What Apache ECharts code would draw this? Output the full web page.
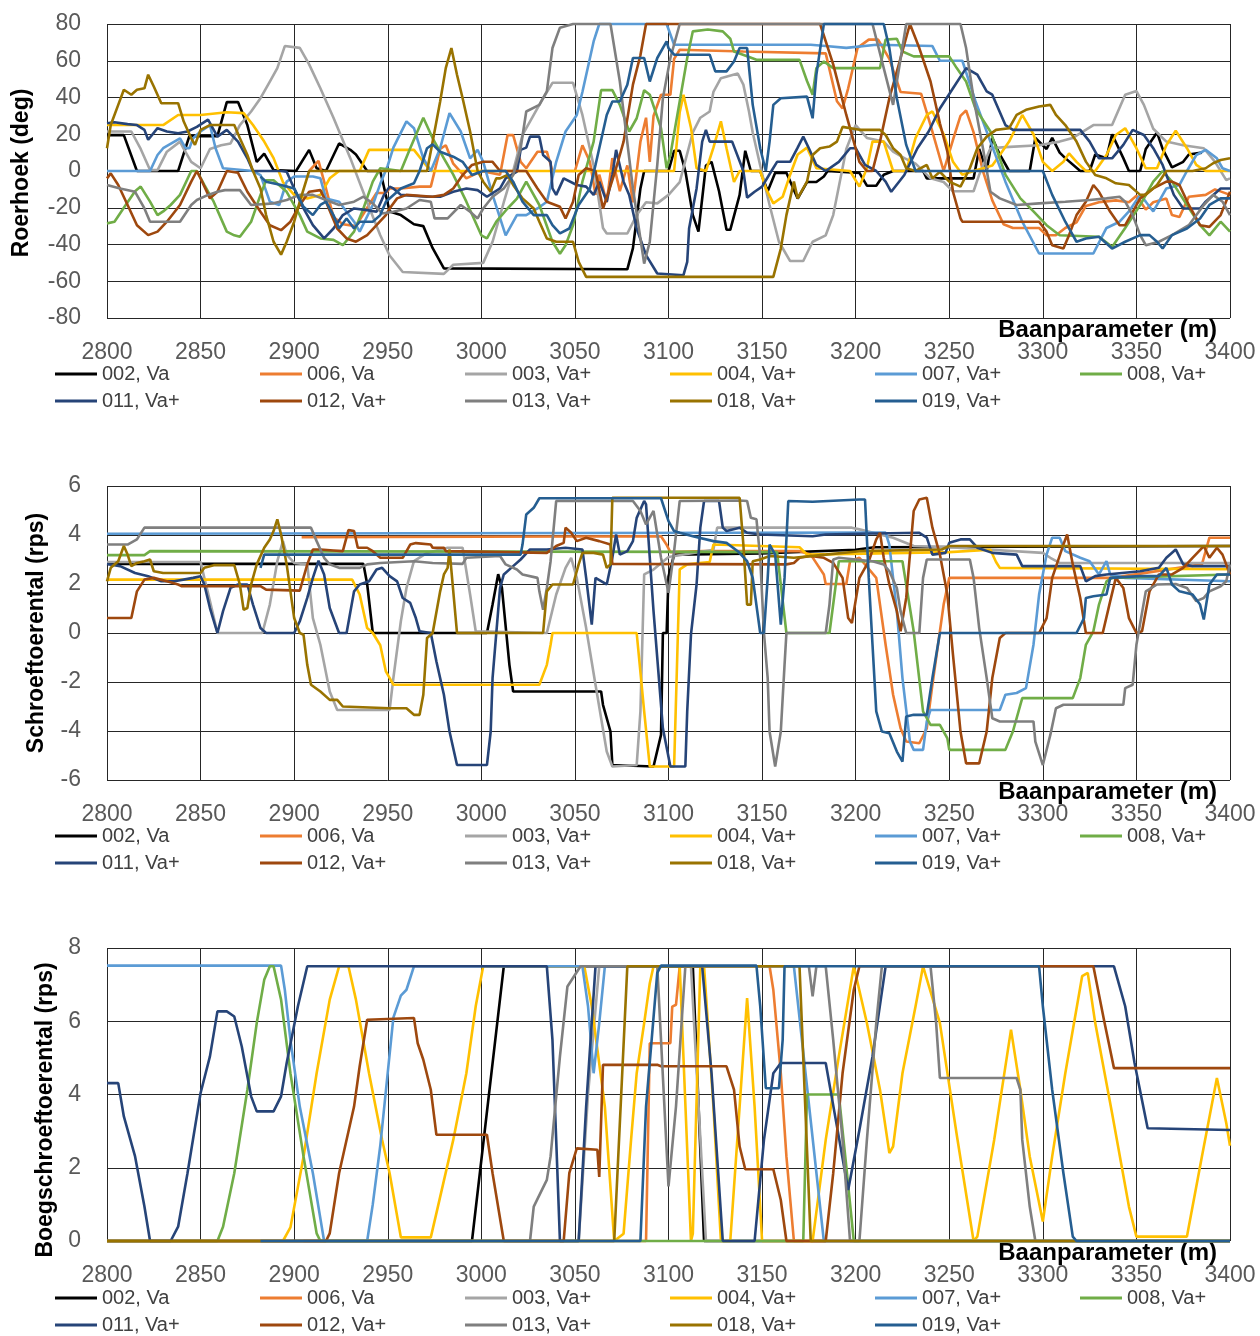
<!DOCTYPE html>
<html>
<head>
<meta charset="utf-8">
<script src="https://cdn.jsdelivr.net/npm/echarts@6/dist/echarts.min.js"></script>
<style>
  html, body { margin: 0; padding: 0; background: #ffffff; }
  #chart { width: 1260px; height: 1336px; }
</style>
</head>
<body>
<div id="chart"></div>
<script>
// Run labels, in drawing order
const runNames = ['002, Va', '006, Va', '003, Va+', '004, Va+', '007, Va+', '008, Va+',
                  '011, Va+', '012, Va+', '013, Va+', '018, Va+', '019, Va+'];

// ---------- Roerhoek (deg) : [baanparameter (m), roerhoek] ----------
const roer002 = [[2800,19.5],[2809,19.5],[2816,0],[2838,0],[2844,19],[2859,19],[2864,37.5],[2870,37.5],[2875,25],[2880,5],[2884,9.5],[2889,0.5],[2901,0],[2908,11.5],[2912,1.5],[2917,0],[2924,15],[2930,11.5],[2933,9],[2939,0],[2946,0],[2951,-22],[2957,-24],[2964,-29],[2969,-30],[2974,-42],[2980,-53],[3078,-53.5],[3081,-42],[3085,-9.5],[3087,0],[3100,0],[3103,11],[3106,11],[3109,0],[3113,-24],[3116,-33],[3120,3],[3123,5],[3127,-11],[3131,-32],[3133,-32],[3138,-13],[3141,11],[3144,0],[3149,0],[3153,-11],[3157,-1],[3163,-1],[3169,-15],[3174,-6],[3179,-6],[3183,-3],[3185,0],[3202,-1],[3206,-8],[3211,-8],[3215,-2],[3220,0],[3236,0],[3238,-4],[3263,-4],[3266,12],[3270,0],[3273,18],[3277,9],[3282,0],[3293,0],[3296,18],[3302,12],[3305,18],[3309,10],[3312,7],[3320,0],[3325,0],[3328,9],[3334,7],[3337,20],[3343,7],[3346,0],[3352,0],[3355,12],[3361,21],[3364,12],[3369,2],[3375,5],[3378,9],[3385,10]];
const roer006 = [[2908,0],[2913,5.5],[2917,-9.5],[2921,-25],[2926,-29],[2933,-30],[2939,-20],[2944,-12],[2949,-12],[2951,-9.5],[2957,-9.5],[2967,-8.5],[2973,-8.5],[2978,12],[2981,14],[2985,4],[2992,-4],[3000,0],[3010,-2],[3014,19.5],[3017,19.5],[3021,5],[3024,1.5],[3030,10.5],[3035,10.5],[3038,0],[3050,0],[3054,14],[3058,5],[3061,-13],[3063,-2],[3067,-17],[3070,7],[3074,-11],[3078,3],[3081,-17],[3085,16],[3088,29],[3090,5],[3092,30],[3096,41.5],[3101,41.5],[3103,61],[3106,66],[3140,65],[3184,64],[3190,38],[3193,34],[3196,45],[3201,67],[3207,71.5],[3212,71.5],[3218,61],[3224,43],[3235,42],[3240,25],[3247,0],[3252,17],[3256,30],[3259,33],[3263,21],[3268,0],[3273,-16],[3279,-29],[3284,-31],[3298,-31],[3302,-35],[3307,-35],[3312,-31],[3318,-28],[3323,-19],[3330,-17],[3339,-16],[3346,-17],[3350,-13.5],[3355,-21],[3359,-17],[3366,-15],[3369,-24],[3373,-25],[3378,-14],[3387,-13],[3392,-10],[3400,-13]];
const roer003 = [[2800,21.5],[2813,21.5],[2818,12],[2823,0.5],[2827,0.5],[2832,10.5],[2839,16],[2841,12],[2845,5],[2850,1.5],[2855,12],[2861,14],[2866,15],[2871,25],[2877,32.4],[2882,39.6],[2887,48.7],[2891,56],[2895,68],[2903,67],[2908,58],[2914,45],[2921,29],[2930,7],[2939,-17],[2946,-35],[2951,-46],[2958,-55],[2980,-56],[2985,-51],[3001,-50],[3006,-38.5],[3012,-17],[3017,0],[3022,19.6],[3028,30.5],[3033,39.6],[3038,48],[3049,48],[3054,30.5],[3060,3],[3065,-31],[3067,-34],[3078,-34],[3083,-24],[3088,-17],[3094,-17.6],[3100,-13],[3106,-6],[3113,21],[3117,29],[3122,32.4],[3124,43],[3128,50.5],[3137,53],[3140,47],[3143,32.4],[3145,21],[3149,3],[3154,-18.5],[3159,-38.5],[3165,-49],[3172,-49],[3177,-38.5],[3184,-35],[3188,-24],[3195,12],[3200,25],[3206,18],[3215,16],[3220,10.5],[3226,7],[3232,4],[3240,-4],[3247,-6],[3252,-11],[3263,-11],[3266,-2],[3272,12.4],[3280,13],[3298,14],[3309,16],[3316,18],[3327,25],[3337,25],[3344,41.5],[3350,43.5],[3354,36],[3359,23],[3366,16],[3375,14],[3386,12.4],[3392,5],[3398,-5],[3400,-4]];
const roer004 = [[2800,25],[2830,25],[2838,30.5],[2850,30.5],[2864,32],[2873,31.5],[2878,25],[2884,16],[2889,7],[2894,-6],[2900,-13],[2907,-15],[2914,-13],[2919,-4],[2924,0],[2935,0],[2940,11.5],[2964,11.5],[2969,5],[2973,0],[3103,0],[3106,32],[3108,41.5],[3112,23.6],[3115,1.5],[3120,0],[3124,12.7],[3128,27],[3131,12.4],[3135,-6],[3138,0],[3149,0],[3152,-9.5],[3156,-17.6],[3161,-14],[3165,-2],[3169,9],[3174,12.7],[3179,1.5],[3197,0],[3202,-8.5],[3206,1.5],[3209,16],[3215,16],[3220,0],[3227,0],[3232,18],[3238,30.5],[3241,32.4],[3247,20],[3252,5],[3257,-2],[3263,0],[3273,3],[3277,8.7],[3282,16],[3289,30.5],[3295,20],[3300,5],[3305,0],[3311,5],[3314,9.6],[3318,5],[3323,0],[3328,0],[3334,8.7],[3339,19.6],[3344,23.3],[3350,12.4],[3355,1.5],[3361,1.5],[3366,14],[3371,22],[3377,12.4],[3382,3.3],[3387,0],[3400,0]];
const roer007 = [[2800,0],[2823,0],[2827,8.7],[2830,12.4],[2836,16],[2839,17.8],[2842,12.4],[2844,12.4],[2846,17.8],[2850,21.5],[2855,25],[2858,12.4],[2862,1.5],[2878,0],[2882,-2.2],[2887,-16.7],[2892,-18.5],[2896,-5.8],[2900,-3],[2910,-3],[2914,-4],[2917,-15],[2924,-16.7],[2932,-27.6],[2935,-33],[2942,-18.5],[2946,-7],[2950,3],[2953,12.7],[2960,27],[2964,23.3],[2969,6.9],[2973,0],[2978,12.4],[2983,31.5],[2989,21.5],[2994,6.9],[2998,11.5],[3001,5],[3006,-13],[3013,-35],[3019,-24],[3024,-24],[3030,-20.4],[3035,-16.7],[3040,5],[3045,21.5],[3051,30.5],[3054,43],[3060,70.5],[3063,80],[3099,80],[3103,68.7],[3176,68.7],[3184,68],[3195,67],[3211,68.7],[3241,68],[3245,60],[3257,60],[3264,38],[3272,16],[3280,-5.8],[3289,-27.6],[3298,-44.9],[3327,-44.9],[3334,-31],[3341,-27.6],[3346,-22],[3352,-13],[3355,-16.7],[3359,-22],[3362,-16.7],[3366,-9.5],[3373,-7.6],[3377,0],[3382,8.7],[3387,11.5],[3393,6.9],[3396,1.5],[3400,0]];
const roer008 = [[2800,-28.5],[2804,-27.6],[2809,-20],[2815,-11],[2818,-8.5],[2823,-16.7],[2827,-24],[2830,-22],[2834,-18.5],[2839,-13],[2845,0],[2848,0],[2852,-7.6],[2857,-16.7],[2864,-33],[2868,-35],[2871,-35.8],[2877,-27.6],[2882,-13],[2885,-5],[2889,-5],[2896,-11.3],[2903,-24],[2907,-33],[2914,-36.7],[2921,-37.5],[2926,-40.4],[2932,-33],[2937,-20.4],[2942,-5.8],[2946,1.5],[2957,0],[2962,12.4],[2969,29],[2974,17.8],[2980,6.9],[2985,-2],[2992,-16.7],[3000,-35],[3003,-36.7],[3008,-27.6],[3014,-20.4],[3019,-15],[3024,-5.8],[3031,-18.5],[3038,-38.5],[3042,-45],[3045,-40.4],[3049,-29.5],[3054,-5.8],[3060,16],[3064,44],[3070,44],[3074,36],[3079,21.5],[3083,28.7],[3087,44],[3090,41.5],[3096,23.3],[3099,1.5],[3101,8.7],[3106,38],[3110,61.5],[3113,76],[3121,77],[3129,76],[3133,72],[3135,65],[3142,62.4],[3147,60.5],[3170,60.5],[3174,49],[3177,41.5],[3179,56],[3183,59.6],[3188,56],[3213,56],[3216,71.5],[3222,72],[3225,65],[3231,62.4],[3250,62.4],[3254,56],[3259,48.7],[3264,34],[3272,21.5],[3280,-2],[3288,-14.9],[3295,-22],[3302,-29.5],[3309,-35],[3330,-35.8],[3337,-41.3],[3344,-31],[3352,-18.5],[3359,-5.8],[3364,0],[3369,-5.8],[3377,-18.5],[3384,-29.5],[3389,-35],[3395,-27.6],[3400,-33]];
const roer011 = [[2800,26],[2804,26.5],[2811,25.5],[2816,25],[2820,22.4],[2822,17],[2827,23.3],[2832,21.5],[2838,20.5],[2843,21.5],[2848,24],[2854,28],[2859,18.7],[2864,22.4],[2870,16],[2875,6.9],[2878,0],[2893,0],[2896,-0.4],[2900,-9.5],[2905,-20.4],[2910,-29.5],[2916,-36.7],[2921,-31.3],[2926,-24],[2932,-20.4],[2939,-21.3],[2944,-22.2],[2948,-13],[2951,-8.5],[2953,-9.5],[2957,-13],[2971,-14],[2978,-14],[2985,-11.3],[2992,-9.5],[2998,-10.4],[3003,-14],[3010,-9.5],[3013,-4],[3019,-0.4],[3021,11.5],[3024,12.7],[3026,18.7],[3031,18.7],[3033,8.7],[3037,5],[3038,-9.5],[3040,-13],[3044,-4],[3051,-7.6],[3056,-8.5],[3060,-13],[3063,-5.8],[3067,-16.7],[3070,-2.2],[3072,11.5],[3076,-5.8],[3079,-13],[3083,-31.3],[3088,-45.8],[3094,-55.8],[3108,-56.7],[3110,-49.5],[3111,-31.3],[3115,-9.5],[3118,16],[3120,22.4],[3122,16],[3134,16],[3140,0],[3142,-14.5],[3146,-11.3],[3150,-8.5],[3155,0],[3158,5],[3165,5],[3169,12.7],[3172,18.7],[3175,12.4],[3179,3.3],[3184,0],[3191,5],[3197,12.4],[3200,12.4],[3205,3.3],[3211,0],[3216,-5.8],[3219,-11.3],[3226,-2.2],[3233,12.4],[3239,21.5],[3245,34],[3252,45],[3259,56],[3265,52.4],[3270,43.3],[3273,41.5],[3280,25],[3284,22.4],[3320,22.4],[3325,16],[3330,6.9],[3337,6.9],[3343,14.2],[3348,22.4],[3354,19.6],[3359,12.4],[3364,3.3],[3370,-13],[3375,-20.4],[3384,-20.4],[3387,-16.7],[3395,-9.5],[3400,-9.5]];
const roer012 = [[2800,-4],[2802,-1.3],[2806,-7.6],[2811,-18.5],[2816,-29.5],[2822,-34.9],[2827,-33],[2832,-27.6],[2839,-18.5],[2845,-5.8],[2848,0],[2850,-4],[2855,-14.9],[2859,-11.3],[2864,0],[2870,-1],[2875,-11.3],[2882,-22.2],[2887,-29.5],[2893,-32.2],[2898,-27.6],[2903,-18.5],[2908,-11.3],[2914,-10.4],[2917,-16.7],[2923,-31.3],[2928,-36.7],[2933,-38.5],[2939,-34.9],[2944,-29.5],[2949,-24],[2951,-20.4],[2955,-14.9],[2960,-13],[2974,-14],[2980,-13],[2985,-9.5],[2990,-2.2],[2995,3.3],[3001,5],[3006,5],[3010,0],[3024,0],[3030,-9.5],[3035,-16.7],[3042,-19.5],[3045,-25.8],[3049,-16.7],[3052,-2.2],[3056,1.5],[3061,0],[3065,-20.4],[3068,-11.3],[3072,1.5],[3076,16],[3081,47],[3085,63],[3088,80],[3181,80],[3188,58],[3195,30.5],[3202,5],[3206,0],[3209,0],[3213,16],[3218,39.6],[3224,61.5],[3229,80],[3234,66.9],[3240,48.7],[3245,26],[3249,10.5],[3252,-11.3],[3256,-25.8],[3257,-27.6],[3298,-27.6],[3302,-33],[3305,-40.4],[3311,-42.2],[3314,-34.9],[3318,-24],[3323,-16.7],[3327,-7.6],[3330,-11.3],[3336,-22.2],[3341,-29.5],[3344,-29.5],[3348,-22.2],[3352,-14.9],[3359,-9.5],[3366,-5.8],[3369,-5.8],[3373,-7.6],[3378,-18.5],[3384,-29.5],[3389,-30.4],[3395,-24],[3400,-11.3]];
const roer013 = [[2800,-7.6],[2807,-9.5],[2815,-11.3],[2820,-20.4],[2823,-27.6],[2839,-27.6],[2845,-18.5],[2848,-15.8],[2854,-13],[2859,-11.3],[2863,-10.4],[2871,-10.4],[2877,-18.5],[2889,-17.6],[2896,-15.8],[2903,-13],[2910,-13],[2917,-15.8],[2924,-18.5],[2932,-16.7],[2937,-14],[2942,-17.6],[2947,-23.1],[2953,-22.2],[2960,-20.4],[2967,-15.8],[2973,-16.7],[2975,-25.8],[2982,-25.8],[2989,-18.5],[2994,-22.2],[2998,-25.8],[3001,-20.4],[3006,-14],[3012,-9.5],[3017,-2.2],[3021,12.4],[3024,32.4],[3031,36],[3035,43.3],[3038,66.9],[3042,78],[3049,80],[3069,80],[3074,48.7],[3081,-9.5],[3087,-50.4],[3090,-38.5],[3094,3.3],[3097,39.6],[3101,61.5],[3106,80],[3209,80],[3220,36],[3227,80],[3256,80],[3259,66.9],[3263,39.6],[3268,12.4],[3272,-11.3],[3277,-14.9],[3286,-18.5],[3298,-17.6],[3312,-16.7],[3325,-15.8],[3334,-14.9],[3341,-14],[3344,-16.7],[3348,-24],[3352,-34.9],[3355,-40.4],[3362,-38.5],[3369,-34.9],[3378,-29.5],[3386,-18.5],[3391,-13],[3396,-16.7],[3400,-24]];
const roer018 = [[2800,12.4],[2802,25],[2806,36],[2809,44.2],[2813,41.5],[2816,44.2],[2820,45],[2822,52.4],[2823,52.4],[2825,46],[2829,36.9],[2838,36.9],[2841,26.9],[2845,17.8],[2847,14.2],[2850,22.4],[2855,25],[2868,25],[2871,17.8],[2875,8.7],[2878,0],[2882,-9.5],[2885,-24],[2889,-38.5],[2893,-45.5],[2896,-38.5],[2900,-27.6],[2903,-16.7],[2908,0],[2971,0],[2974,16],[2978,37.8],[2981,56],[2984,66.9],[2987,52.4],[2990,39.6],[2994,21.5],[2998,0],[3001,-5.8],[3005,-11.3],[3008,-4],[3010,-4],[3014,-2.2],[3017,-7.6],[3022,-14.9],[3028,-20.4],[3031,-27.6],[3035,-36.7],[3040,-38.5],[3049,-38.5],[3052,-49.5],[3056,-57.6],[3156,-57.6],[3160,-42.2],[3163,-24],[3167,-5.8],[3169,-14.9],[3170,-13],[3174,-5.8],[3177,8.7],[3181,12.4],[3186,13.3],[3190,16],[3193,24],[3202,22.4],[3213,22.4],[3216,19.6],[3220,12.4],[3224,8.7],[3227,1.5],[3232,0],[3238,3.3],[3241,-4],[3245,-0.4],[3250,-5.8],[3256,-8.5],[3261,1.5],[3265,12.4],[3270,18.7],[3275,22.4],[3282,23.3],[3286,30.5],[3291,33.3],[3298,35.1],[3304,36],[3307,30.5],[3312,25],[3318,16],[3323,5.1],[3328,-2.2],[3334,-4],[3339,-6.7],[3346,-7.6],[3352,-13],[3355,-13],[3361,-7.6],[3366,0],[3380,0],[3387,1.5],[3391,4.2],[3395,6],[3400,6.9]];
const roer019 = [[2882,-3],[2885,-5.8],[2893,-7.6],[2900,-9.5],[2905,-19.5],[2910,-24],[2914,-18.5],[2917,-16.7],[2921,-24],[2924,-31.3],[2928,-25.8],[2932,-31.3],[2935,-27.6],[2942,-27.6],[2946,-24],[2949,-16.7],[2957,-9.5],[2964,-6.7],[2967,0],[2971,12.4],[2974,14.5],[2978,10.5],[2985,7.8],[2990,5],[2995,-2.2],[3001,0],[3013,0],[3017,-5.8],[3022,-16.7],[3028,-24],[3035,-24],[3038,-29.5],[3042,-34],[3047,-31.3],[3052,-18.5],[3058,-9.5],[3061,3.3],[3067,30.5],[3070,37.8],[3074,37.8],[3078,46.9],[3081,61.5],[3087,61.5],[3090,48.7],[3094,61.5],[3099,70.5],[3100,66.9],[3103,63.3],[3122,63.3],[3125,54.2],[3131,54.2],[3135,59.6],[3138,66.9],[3142,66.9],[3145,36],[3149,12.4],[3152,0],[3154,16],[3156,36],[3160,39.6],[3174,40.5],[3177,28.7],[3179,52.4],[3183,80],[3215,80],[3218,66.9],[3222,39.6],[3227,14.2],[3232,0],[3300,0],[3305,-13],[3312,-27.6],[3318,-38.5],[3323,-36.7],[3330,-35.8],[3337,-42.2],[3344,-38.5],[3352,-34.9],[3357,-34.9],[3361,-38.5],[3364,-42.2],[3369,-34.9],[3377,-31.3],[3384,-25.8],[3389,-18.5],[3395,-14.9],[3400,-14.9]];

// ---------- Schroeftoerental (rps) ----------
const schroef002 = [[2800,2.82],[2937,2.82],[2939,2.0],[2942,0],[3003,0],[3006,1.16],[3009,2.4],[3011,1.84],[3015,-1.3],[3017,-2.39],[3064,-2.39],[3065,-2.93],[3069,-4.02],[3070,-5.39],[3092,-5.45],[3096,-4.16],[3097,0],[3099,0],[3100,2.3],[3103,3.2],[3150,3.25],[3200,3.4],[3210,3.5],[3400,3.55]];
const schroef006 = [[2904,3.91],[3096,3.95],[3099,3.6],[3101,3.3],[3119,3.34],[3170,3.34],[3176,3.2],[3183,2.39],[3184,2.0],[3195,2.0],[3197,2.93],[3202,3.07],[3211,2.25],[3216,-0.48],[3220,-2.52],[3224,-3.89],[3227,-4.43],[3234,-4.5],[3238,-3.89],[3241,-2.11],[3247,1.16],[3250,2.25],[3337,2.25],[3385,2.8],[3389,3.89],[3400,3.89]];
const schroef003 = [[2800,2.9],[2850,2.9],[2852,2.25],[2855,1.3],[2859,0],[2883,0],[2887,1.16],[2891,2.93],[2894,3.75],[2896,3.2],[2900,2.86],[2907,2.8],[2910,0.61],[2914,-0.48],[2919,-2.39],[2923,-3.14],[2951,-3.14],[2953,-1.84],[2957,0.48],[2960,1.84],[2964,2.93],[2971,3.27],[2982,3.48],[2990,3.48],[2994,1.57],[2997,0.07],[3035,0],[3040,1.57],[3045,2.66],[3048,3.07],[3051,2.25],[3056,0.2],[3061,-2.11],[3067,-4.84],[3070,-5.45],[3083,-5.39],[3085,-3.2],[3087,2.39],[3092,2.59],[3100,3.1],[3124,3.4],[3126,4.3],[3198,4.3],[3202,4.23],[3220,3.89],[3231,3.55],[3250,3.5],[3300,3.27],[3304,3.07],[3309,2.86],[3400,2.86]];
const schroef004 = [[2800,2.18],[2931,2.18],[2935,1.57],[2939,0.2],[2942,0],[2946,-0.5],[2949,-1.57],[2953,-2.11],[3031,-2.11],[3035,-1.3],[3037,-0.48],[3038,0],[3083,0],[3087,-3.2],[3090,-5.45],[3103,-5.45],[3106,2.6],[3110,2.8],[3122,2.9],[3124,3.61],[3170,3.5],[3174,3.2],[3250,3.3],[3272,3.4],[3275,2.9],[3277,2.66],[3400,2.6]];
const schroef007 = [[2800,4.05],[3216,4.1],[3218,3.6],[3222,0.89],[3225,-1.84],[3229,-4.43],[3231,-4.77],[3236,-4.77],[3238,-3.61],[3240,-3.14],[3277,-3.14],[3280,-2.52],[3286,-2.45],[3291,-2.25],[3295,-0.48],[3298,1.57],[3302,3.2],[3305,3.89],[3309,3.89],[3312,3.34],[3320,3.07],[3325,2.93],[3330,2.39],[3334,2.93],[3336,2.39],[3344,2.25],[3400,2.11]];
const schroef008 = [[2800,3.18],[2820,3.18],[2823,3.34],[3119,3.31],[3158,3.3],[3163,0],[3186,0],[3191,2.93],[3225,2.93],[3231,0.07],[3236,-3.2],[3240,-3.75],[3245,-3.75],[3249,-4.3],[3250,-4.77],[3280,-4.77],[3284,-4.02],[3289,-2.66],[3316,-2.66],[3320,-1.84],[3323,-0.48],[3327,0.07],[3330,1.16],[3334,2.11],[3337,2.25],[3400,2.39]];
const schroef011 = [[2800,2.82],[2807,2.73],[2815,2.45],[2822,2.32],[2829,2.11],[2836,2.11],[2846,2.25],[2850,2.32],[2852,1.98],[2855,1.02],[2859,0],[2862,0.89],[2866,1.84],[2870,1.98],[2875,1.98],[2878,1.16],[2882,0.2],[2885,0],[2900,0],[2903,0.48],[2907,1.43],[2910,2.25],[2913,2.95],[2916,2.39],[2919,1.02],[2924,0],[2928,0],[2932,1.7],[2935,1.98],[2940,2.11],[2944,2.59],[2947,2.66],[2951,2.32],[2955,2.11],[2958,1.43],[2962,1.23],[2965,0.61],[2967,0.07],[2973,0],[2976,-1.16],[2980,-2.52],[2983,-4.02],[2987,-5.39],[3003,-5.39],[3005,-4.02],[3006,-1.84],[3010,1.84],[3012,2.39],[3017,2.73],[3021,3.0],[3026,3.41],[3035,3.41],[3045,3.48],[3054,3.41],[3056,2.25],[3059,0.34],[3061,2.25],[3067,1.98],[3070,3.07],[3072,4.02],[3074,3.2],[3078,3.34],[3081,3.75],[3083,4.7],[3087,5.39],[3088,5.25],[3092,0.89],[3097,-3.89],[3101,-5.45],[3109,-5.45],[3110,-3.2],[3112,-0.07],[3113,0],[3115,1.98],[3117,4.3],[3119,5.39],[3127,5.39],[3129,4.3],[3131,4.16],[3138,4.3],[3142,4.09],[3149,4.02],[3177,3.95],[3184,4.02],[3202,4.05],[3234,4.09],[3238,3.89],[3241,3.2],[3248,3.27],[3250,3.68],[3256,3.82],[3261,3.82],[3265,3.48],[3273,3.27],[3286,3.2],[3289,2.73],[3320,2.73],[3323,2.11],[3328,2.32],[3334,2.39],[3352,2.52],[3362,2.66],[3366,3.07],[3371,3.41],[3375,2.8],[3380,2.73],[3400,2.73]];
const schroef012 = [[2800,0.61],[2813,0.61],[2816,1.7],[2820,2.18],[2825,2.25],[2832,2.11],[2838,1.98],[2840,1.91],[2882,1.91],[2885,1.77],[2903,1.73],[2907,2.8],[2910,3.41],[2914,3.41],[2921,3.37],[2926,3.34],[2929,4.2],[2932,4.16],[2934,3.48],[2939,3.48],[2942,3.34],[2946,3.07],[2958,3.07],[2962,3.61],[2965,3.67],[2973,3.61],[2974,3.48],[2980,3.48],[2981,3.34],[3035,3.27],[3040,3.55],[3044,3.68],[3045,4.3],[3048,4.09],[3051,3.75],[3056,3.89],[3063,3.75],[3069,3.61],[3070,2.82],[3163,2.8],[3167,2.86],[3170,3.07],[3176,3.14],[3183,3.07],[3188,2.86],[3193,2.25],[3196,0.61],[3198,0.41],[3202,2.25],[3207,2.93],[3211,3.82],[3213,4.09],[3215,3.07],[3218,1.98],[3222,0.89],[3224,0.07],[3227,1.43],[3231,4.98],[3234,5.45],[3238,5.52],[3241,4.3],[3245,3.2],[3249,1.57],[3252,-0.89],[3256,-4.02],[3259,-5.32],[3266,-5.32],[3270,-4.02],[3273,-1.84],[3277,-0.2],[3280,0],[3298,0],[3302,0.61],[3305,2.25],[3311,3.61],[3313,4.02],[3316,2.8],[3320,1.43],[3323,0],[3332,0],[3336,1.3],[3339,2.25],[3343,1.84],[3346,0.61],[3350,0],[3353,0.07],[3357,1.7],[3362,2.39],[3369,2.39],[3375,2.66],[3380,3.07],[3386,3.55],[3389,3.07],[3393,3.48],[3396,3.2],[3400,2.39]];
const schroef013 = [[2800,3.61],[2811,3.61],[2816,3.82],[2820,4.3],[2909,4.3],[2912,3.75],[2916,3.07],[2919,2.8],[2924,2.66],[2935,2.66],[2939,2.8],[2946,2.86],[2964,2.93],[2974,2.86],[2990,2.82],[2992,3.07],[3010,3.14],[3013,2.8],[3019,2.59],[3022,2.39],[3030,2.25],[3031,1.7],[3033,0.95],[3035,1.84],[3037,2.93],[3040,5.39],[3081,5.39],[3085,4.98],[3088,4.43],[3092,4.98],[3096,3.07],[3100,1.64],[3103,3.34],[3106,5.39],[3138,5.41],[3142,5.39],[3144,4.7],[3147,4.64],[3149,3.07],[3151,0],[3153,-1.84],[3154,-4.02],[3157,-5.45],[3160,-4.02],[3162,-1.3],[3163,0],[3184,0],[3186,1.16],[3188,3.0],[3191,3.07],[3209,2.93],[3215,2.8],[3218,2.52],[3222,1.84],[3224,0.89],[3227,0],[3234,0],[3236,2.25],[3238,3.0],[3261,3.0],[3263,2.25],[3266,0.2],[3270,-1.84],[3273,-3.48],[3277,-3.61],[3295,-3.61],[3296,-4.43],[3300,-5.39],[3304,-4.16],[3307,-3.07],[3311,-2.93],[3343,-2.93],[3344,-2.25],[3348,-2.11],[3350,-0.48],[3355,1.7],[3361,1.98],[3371,2.0],[3377,1.84],[3382,1.3],[3386,1.43],[3389,1.7],[3395,1.91],[3398,2.11],[3400,2.8]];
const schroef018 = [[2800,2.11],[2802,2.66],[2806,2.93],[2809,3.55],[2811,3.2],[2813,2.73],[2816,2.86],[2820,2.93],[2823,3.0],[2825,2.52],[2830,2.45],[2850,2.45],[2852,2.66],[2857,2.77],[2868,2.77],[2871,1.98],[2873,0.95],[2875,1.02],[2877,1.98],[2880,2.8],[2884,3.48],[2887,3.82],[2889,4.16],[2891,4.64],[2893,4.02],[2896,2.8],[2900,0.61],[2903,0],[2905,-0.07],[2907,-1.3],[2909,-2.11],[2914,-2.39],[2919,-2.73],[2923,-2.73],[2926,-3.0],[2951,-3.07],[2960,-3.07],[2964,-3.34],[2967,-3.34],[2969,-2.52],[2971,-0.2],[2974,0],[2978,1.7],[2980,2.39],[2982,2.66],[2983,3.41],[2987,0],[3033,0],[3035,1.7],[3038,1.98],[3049,1.98],[3052,2.8],[3054,3.27],[3060,3.27],[3065,3.2],[3067,2.66],[3069,2.8],[3070,5.52],[3138,5.52],[3140,3.61],[3142,1.16],[3144,1.16],[3145,2.93],[3149,3.0],[3154,3.14],[3167,3.07],[3184,3.2],[3202,3.34],[3246,3.41],[3250,3.55],[3400,3.55]];
const schroef019 = [[2882,2.66],[2884,3.2],[3021,3.2],[3022,3.61],[3024,4.84],[3028,5.11],[3031,5.5],[3096,5.5],[3100,4.57],[3103,4.16],[3106,4.09],[3113,3.95],[3124,3.75],[3131,3.68],[3137,3.34],[3142,2.93],[3145,2.25],[3149,0],[3151,0],[3153,2.25],[3154,3.61],[3157,3.2],[3160,0.34],[3162,2.25],[3164,5.39],[3177,5.36],[3202,5.45],[3205,5.45],[3207,2.25],[3209,-0.48],[3211,-3.2],[3214,-4.02],[3218,-4.09],[3222,-4.84],[3225,-5.25],[3227,-3.41],[3231,-3.34],[3238,-3.34],[3241,-1.84],[3245,0],[3318,0],[3322,0.61],[3323,1.43],[3327,1.5],[3334,1.57],[3336,2.25],[3352,2.32],[3362,2.32],[3366,2.66],[3369,1.98],[3373,1.7],[3380,1.57],[3384,1.16],[3386,0.55],[3389,1.98],[3393,2.39],[3400,2.39]];

// ---------- Boegschroeftoerental (rps) ----------
const boeg002 = [[2800,0],[2995,0],[3012,7.5],[3113,7.5],[3119,0],[3400,0]];
const boeg006 = [[2905,0],[3088,0],[3090,5.4],[3101,5.4],[3102,6.4],[3104,6.45],[3106,7.5],[3154,7.5],[3156,6.86],[3160,4.58],[3163,2.31],[3167,0],[3400,0]];
const boeg003 = [[2800,0],[3052,0],[3057,4.0],[3063,7.5],[3112,7.5],[3120,0],[3400,0]];
const boeg004 = [[2800,0],[2894,0],[2898,0.37],[2905,2.3],[2912,4.58],[2919,6.59],[2924,7.5],[2929,7.5],[2933,6.59],[2940,4.58],[2947,2.76],[2951,1.85],[2957,0.1],[2973,0.1],[2976,0.76],[2985,2.76],[2992,4.58],[2997,6.41],[3001,7.5],[3055,7.5],[3059,6.41],[3066,3.67],[3071,0],[3076,0.2],[3080,2.76],[3083,4.58],[3087,5.95],[3090,7.04],[3092,7.5],[3106,7.5],[3112,0],[3113,0.2],[3117,7.5],[3119,7.5],[3124,3.67],[3128,0],[3133,0],[3138,3.67],[3142,6.63],[3146,3.67],[3150,0],[3177,0],[3184,2.76],[3191,5.04],[3199,7.5],[3206,5.95],[3213,4.13],[3218,2.4],[3220,2.58],[3225,4.58],[3232,6.41],[3236,7.5],[3245,5.95],[3254,2.9],[3263,0],[3265,0.12],[3274,2.76],[3283,5.77],[3288,4.13],[3293,2.31],[3300,0.53],[3305,2.31],[3312,4.58],[3321,7.23],[3324,7.32],[3328,5.95],[3337,3.49],[3346,0.94],[3350,0.12],[3377,0.12],[3385,2.31],[3393,4.45],[3398,3.22],[3400,2.6]];
const boeg007 = [[2800,7.52],[2893,7.52],[2895,6.86],[2898,5.49],[2903,3.67],[2910,1.85],[2916,0],[2939,0],[2942,1.0],[2946,2.6],[2950,4.6],[2953,6.1],[2957,6.7],[2960,6.86],[2964,7.5],[3054,7.5],[3057,6.41],[3060,4.58],[3063,5.95],[3066,7.5],[3167,7.5],[3183,0],[3400,0]];
const boeg008 = [[2800,0],[2859,0],[2862,0.39],[2868,1.85],[2875,4.13],[2880,5.95],[2884,7.13],[2887,7.5],[2889,7.5],[2893,6.59],[2898,4.58],[2905,2.31],[2912,0.21],[2914,0],[3172,0],[3174,4.0],[3191,4.0],[3195,2.03],[3199,0],[3400,0]];
const boeg011 = [[2800,4.31],[2806,4.31],[2809,3.4],[2815,2.31],[2820,0.94],[2823,0],[2834,0],[2838,0.39],[2843,1.85],[2850,4.04],[2855,5.04],[2859,6.27],[2864,6.27],[2868,6.13],[2872,5.31],[2877,3.95],[2880,3.54],[2889,3.54],[2893,3.95],[2896,4.86],[2902,6.41],[2907,7.5],[3035,7.5],[3038,5.49],[3040,2.76],[3042,0],[3052,0],[3056,3.67],[3061,7.5],[3118,7.5],[3123,4.58],[3129,0],[3146,0],[3151,2.76],[3156,4.58],[3160,4.86],[3184,4.86],[3190,3.13],[3196,1.39],[3202,3.03],[3209,5.04],[3216,7.5],[3338,7.5],[3344,6.41],[3349,4.86],[3356,3.08],[3400,3.03]];
const boeg012 = [[2800,0],[2917,0],[2919,0.21],[2924,1.85],[2932,3.67],[2935,4.77],[2939,6.04],[2964,6.09],[2966,5.4],[2969,4.95],[2973,4.13],[2976,2.9],[3003,2.9],[3006,1.85],[3012,0],[3044,0],[3047,1.85],[3051,2.53],[3062,2.49],[3063,1.75],[3064,1.75],[3065,4.81],[3094,4.81],[3096,4.77],[3131,4.77],[3135,4.13],[3138,2.58],[3141,1.96],[3156,1.96],[3160,1.12],[3163,0],[3184,0],[3188,1.85],[3193,4.58],[3199,6.86],[3202,7.5],[3327,7.5],[3333,5.95],[3338,4.72],[3400,4.72]];
const boeg013 = [[2800,0],[3026,0],[3028,0.94],[3035,1.67],[3037,2.31],[3042,5.04],[3046,6.95],[3053,7.5],[3094,7.5],[3100,1.49],[3104,3.67],[3109,7.5],[3175,7.5],[3177,6.68],[3179,7.5],[3184,7.5],[3188,5.49],[3193,2.76],[3197,0],[3202,0],[3206,2.76],[3211,5.95],[3214,7.5],[3240,7.5],[3243,5.95],[3245,4.45],[3286,4.45],[3288,4.13],[3289,2.76],[3293,0.94],[3296,0],[3400,0]];
const boeg018 = [[2800,0],[3071,0],[3078,7.5],[3170,7.5],[3176,0],[3400,0]];
const boeg019 = [[2882,0],[3085,0],[3088,3.67],[3094,7.32],[3096,7.52],[3147,7.52],[3149,6.41],[3152,4.17],[3159,4.17],[3161,5.49],[3162,7.5],[3298,7.5],[3300,6.41],[3305,4.13],[3311,1.85],[3316,0.12],[3318,0],[3400,0]];

// ---------- styling ----------
const runColors = ['#000000', '#ED7D31', '#A5A5A5', '#FFC000', '#5B9BD5', '#70AD47',
                   '#264478', '#9E480E', '#7F7F7F', '#997300', '#255E91'];
const FONT = '"Liberation Sans", Arial, sans-serif';

const panels = [
  { runs: [roer002, roer006, roer003, roer004, roer007, roer008, roer011, roer012, roer013, roer018, roer019],
    min: -80, max: 80, step: 20, top: 24, height: 294,
    title: 'Roerhoek (deg)', titleX: 22, titleY: 173, legendTop: 361, xNameY: 330 },
  { runs: [schroef002, schroef006, schroef003, schroef004, schroef007, schroef008, schroef011, schroef012, schroef013, schroef018, schroef019],
    min: -6, max: 6, step: 2, top: 486, height: 294,
    title: 'Schroeftoerental (rps)', titleX: 37, titleY: 633, legendTop: 823, xNameY: 792 },
  { runs: [boeg002, boeg006, boeg003, boeg004, boeg007, boeg008, boeg011, boeg012, boeg013, boeg018, boeg019],
    min: 0, max: 8, step: 2, top: 948, height: 293,
    title: 'Boegschroeftoerental (rps)', titleX: 46, titleY: 1110, legendTop: 1285, xNameY: 1253 }
];

const grids = [], xAxes = [], yAxes = [], series = [], legends = [], graphics = [];

panels.forEach((p, i) => {
  grids.push({ left: 107, right: 30, top: p.top, height: p.height, containLabel: false });

  xAxes.push({
    type: 'value', gridIndex: i, min: 2800, max: 3400, interval: 50,
    axisLine: { show: false, onZero: false },
    axisTick: { show: false },
    axisLabel: { color: '#595959', fontSize: 23, fontFamily: FONT, margin: 23,
                 showMaxLabel: true, showMinLabel: true, formatter: v => String(v) },
    splitLine: { show: true, lineStyle: { color: '#262626', width: 1 } }
  });

  yAxes.push({
    type: 'value', gridIndex: i, min: p.min, max: p.max, interval: p.step,
    axisLine: { show: false },
    axisTick: { show: false },
    axisLabel: { color: '#595959', fontSize: 23, fontFamily: FONT, margin: 26 },
    splitLine: { show: true, lineStyle: { color: '#262626', width: 1 } }
  });

  p.runs.forEach((run, k) => {
    series.push({
      type: 'line', name: runNames[k], xAxisIndex: i, yAxisIndex: i,
      data: run, showSymbol: false, symbol: 'none', clip: false,
      color: runColors[k],
      lineStyle: { width: 2.6, color: runColors[k] },
      emphasis: { disabled: true }
    });
  });

  legends.push({
    left: 55, top: p.legendTop, width: 1240, orient: 'horizontal', padding: 0,
    icon: 'rect', itemWidth: 42, itemHeight: 3, itemGap: 1,
    data: runNames.map(n => ({ name: n, icon: 'rect' })),
    textStyle: { color: '#404040', fontSize: 20, fontFamily: FONT, width: 157, lineHeight: 26 },
    selectedMode: false
  });

  graphics.push({
    type: 'text', x: p.titleX, y: p.titleY, rotation: Math.PI / 2,
    style: { text: p.title, font: 'bold 23px ' + FONT, fill: '#000000', textAlign: 'center', textVerticalAlign: 'middle' }
  });
  graphics.push({
    type: 'text', x: 1217, y: p.xNameY,
    style: { text: 'Baanparameter (m)', font: 'bold 24px ' + FONT, fill: '#000000', textAlign: 'right', textVerticalAlign: 'middle' }
  });
});

const chart = echarts.init(document.getElementById('chart'), null, { renderer: 'canvas' });
chart.setOption({
  animation: false,
  backgroundColor: '#ffffff',
  grid: grids,
  xAxis: xAxes,
  yAxis: yAxes,
  legend: legends,
  series: series,
  graphic: graphics
});
</script>
</body>
</html>
